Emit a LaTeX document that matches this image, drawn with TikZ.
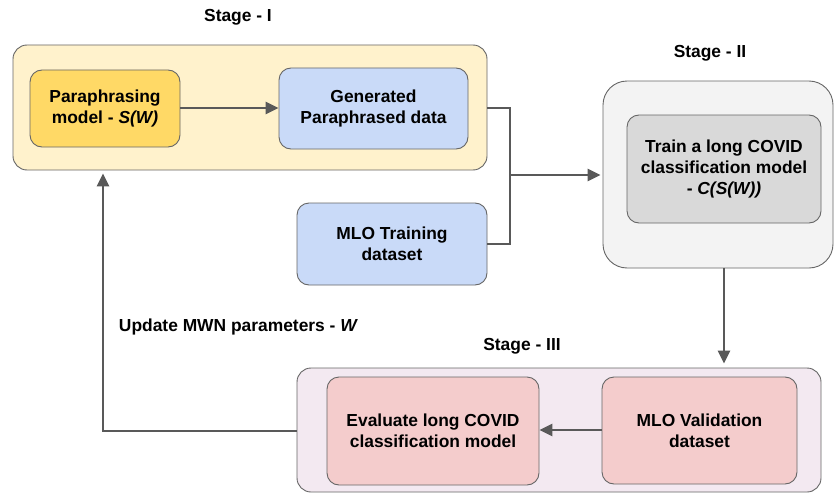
\documentclass[tikz,border=0pt]{standalone}
\usepackage{fontspec}
\setmainfont{Liberation Sans}
\usetikzlibrary{arrows.meta,calc}
\definecolor{yellowbg}{HTML}{FFF2CC}
\definecolor{yellowbox}{HTML}{FFD966}
\definecolor{bluebox}{HTML}{C9DAF8}
\definecolor{graybg}{HTML}{F3F3F3}
\definecolor{graybox}{HTML}{D9D9D9}
\definecolor{purplebg}{HTML}{F3E9F1}
\definecolor{redbox}{HTML}{F4CCCC}
\definecolor{edgegray}{HTML}{666666}
\definecolor{linegray}{HTML}{595959}
\tikzset{
  container/.style={draw=edgegray, line width=0.9pt, rounded corners=#1},
  container/.default=14pt,
  inbox/.style={draw=edgegray, line width=0.9pt, rounded corners=12pt, align=center,
    font=\fontsize{17.4}{20.8}\selectfont\bfseries, inner sep=0pt},
  lbl/.style={font=\fontsize{17.4}{20.8}\selectfont\bfseries, inner sep=0pt},
  conn/.style={draw=linegray, line width=2.7pt},
  arr/.style={conn, -{Triangle[length=13pt,width=12pt]}}
}
\begin{document}
\begin{tikzpicture}[x=1pt,y=-1pt]
\useasboundingbox[fill=white] (0,0) rectangle (835,495);
% containers
\node[container, fill=yellowbg, minimum width=474pt, minimum height=125pt] (s1) at (250,107.5) {};
\node[container=24pt, fill=graybg, minimum width=230pt, minimum height=187pt] (s2) at (718,174.5) {};
\node[container, fill=purplebg, minimum width=524pt, minimum height=124pt] (s3) at (559,430) {};
% stage labels
\node[lbl] (l1) at (238,17) {Stage - I};
\node[lbl] (l2) at (710,53) {Stage - II};
\node[lbl] (l3) at (522,346) {Stage - III};
\node[lbl] (lu) at (238.5,327) {Update MWN parameters - \textit{W}};
% inner boxes
\node[inbox, fill=yellowbox, minimum width=150pt, minimum height=77pt] (para) at (105,108.5) {Paraphrasing\\model - \textit{S(W)}};
\node[inbox, fill=bluebox, minimum width=189pt, minimum height=81pt] (gen) at (373.5,108.5) {Generated\\Paraphrased data};
\node[inbox, fill=bluebox, minimum width=190pt, minimum height=82pt] (train) at (392,244) {MLO Training\\dataset};
\node[inbox, fill=graybox, minimum width=194pt, minimum height=108pt] (cls) at (724,169) {Train a long COVID\\classification model\\- \textit{C(S(W))}};
\node[inbox, fill=redbox, minimum width=212pt, minimum height=108pt] (eval) at (433,431) {Evaluate long COVID\\classification model};
\node[inbox, fill=redbox, minimum width=195pt, minimum height=107pt] (val) at (699.5,430.5) {MLO Validation\\dataset};
% connectors
\coordinate (j) at (510,175);
\draw[arr] (para.east |- 0,108) -- (gen.west |- 0,108);
\draw[conn] (s1.east |- 0,108) -| (j) |- (train.east);
\draw[arr, shorten >=2pt] (j) -- (s2.west |- j);
\draw[arr, shorten >=4pt] (cls.south |- s2.south) -- (cls.south |- s3.north);
\draw[arr] (val.west |- 0,430) -- (eval.east |- 0,430);
\coordinate (fb) at (103,431);
\draw[arr, shorten >=3pt] (s3.west |- fb) -- (fb) -- (fb |- s1.south);
\end{tikzpicture}
\end{document}
